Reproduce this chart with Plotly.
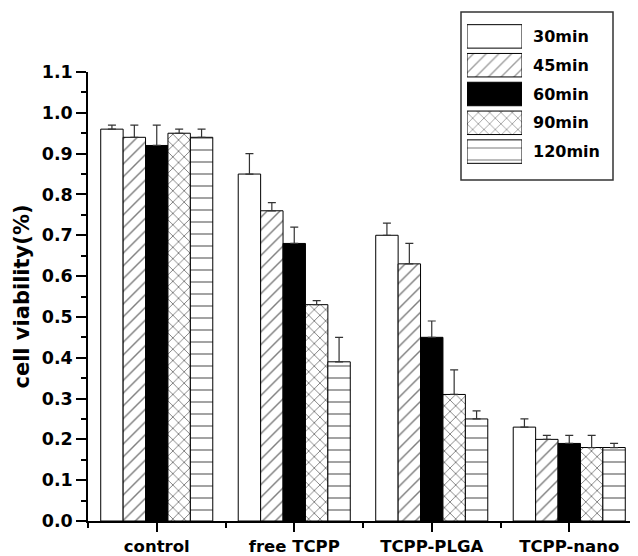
import plotly.graph_objects as go

categories = ["control", "free TCPP", "TCPP-PLGA", "TCPP-nano"]
series_names = ["30min", "45min", "60min", "90min", "120min"]
values_30 = [0.96, 0.85, 0.70, 0.23]
values_45 = [0.94, 0.76, 0.63, 0.20]
values_60 = [0.92, 0.68, 0.45, 0.19]
values_90 = [0.95, 0.53, 0.31, 0.18]
values_120 = [0.94, 0.39, 0.25, 0.18]
err_30 = [0.01, 0.05, 0.03, 0.02]
err_45 = [0.03, 0.02, 0.05, 0.01]
err_60 = [0.05, 0.04, 0.04, 0.02]
err_90 = [0.01, 0.01, 0.06, 0.03]
err_120 = [0.02, 0.06, 0.02, 0.01]
y_ticks = [0.0, 0.1, 0.2, 0.3, 0.4, 0.5, 0.6, 0.7, 0.8, 0.9, 1.0, 1.1]

all_vals = [values_30, values_45, values_60, values_90, values_120]
all_errs = [err_30, err_45, err_60, err_90, err_120]
fills = ["white", "white", "black", "white", "white"]
shapes_p = ["", "/", "", "x", "-"]
sizes_p = [8, 9, 8, 8, 12]
solid_p = [0.2, 0.16, 0.2, 0.22, 0.12]

FONT = "DejaVu Sans, Arial, sans-serif"
fig = go.Figure()
xs = list(range(len(categories)))
for name, v, e, fc, sh, sz, so in zip(series_names, all_vals, all_errs, fills, shapes_p, sizes_p, solid_p):
    fig.add_trace(go.Bar(
        x=xs, y=v, name=name, showlegend=False,
        marker=dict(color=fc, line=dict(color="black", width=1),
                    pattern=dict(shape=sh, fgcolor="black", bgcolor=fc, size=sz, solidity=so)),
        error_y=dict(type="data", array=e, arrayminus=[0] * len(e), symmetric=False,
                     color="#333333", thickness=1.2, width=4),
        xaxis="x", yaxis="y",
    ))

# legend drawn as a small horizontal bar chart
fig.add_trace(go.Bar(
    y=series_names, x=[1] * len(series_names), orientation="h", showlegend=False,
    marker=dict(color=fills, line=dict(color="black", width=1),
                pattern=dict(shape=shapes_p, fgcolor="black", bgcolor=fills, size=sizes_p, solidity=solid_p)),
    xaxis="x2", yaxis="y2", hoverinfo="skip",
))

OFF = 8  # page body margin
W, H = 638 - OFF, 556 - OFF
L, R, T, B = 88 - OFF, 0, 8, 556 - 521
pw, ph = W - L - R, H - T - B
def fx(px):
    return (px - OFF - L) / pw
def fy(py):
    return (H - B - (py - OFF)) / ph

fig.update_layout(
    width=W, height=H,
    margin=dict(l=L, r=R, t=T, b=B, autoexpand=False),
    plot_bgcolor="white", paper_bgcolor="white",
    barmode="group", bargap=0.185, bargroupgap=0,
    font=dict(family=FONT, color="black"),
    xaxis=dict(
        domain=[0, 1], range=[-0.5, 3.5], tickvals=xs, ticktext=categories,
        showline=True, linecolor="black", linewidth=1.5, showgrid=False, zeroline=False,
        ticks="outside", ticklen=9, tickwidth=1.5, tickcolor="black",
        tickfont=dict(size=16.5, family=FONT, weight="bold"),
        minor=dict(tick0=0.5, dtick=1, ticks="outside", ticklen=5, tickwidth=1.5, tickcolor="black"),
        anchor="y", automargin=False,
    ),
    yaxis=dict(
        domain=[0, fy(72)], range=[0, 1.1], tickvals=y_ticks, tickformat=".1f",
        showline=True, linecolor="black", linewidth=1.5, showgrid=False, zeroline=False,
        ticks="outside", ticklen=10, tickwidth=1.5, tickcolor="black",
        tickfont=dict(size=17.5, family=FONT, weight="bold"),
        minor=dict(dtick=0.05, ticks="outside", ticklen=5, tickwidth=1.5, tickcolor="black"),
        title=dict(text="cell viability(%)", font=dict(size=21, family=FONT, weight="bold"), standoff=6),
        anchor="x", automargin=False,
    ),
    xaxis2=dict(domain=[fx(467), fx(522)], range=[0, 1], visible=False, anchor="y2", fixedrange=True),
    yaxis2=dict(domain=[fy(166), fy(22)], type="category", autorange="reversed",
                showline=False, showgrid=False, zeroline=False, ticks="",
                side="right", anchor="x2", ticklabelstandoff=10,
                tickfont=dict(size=16, family=FONT, weight="bold"), fixedrange=True),
    shapes=[dict(type="rect", xref="paper", yref="paper",
                 x0=fx(461), x1=fx(613), y0=fy(180), y1=fy(12),
                 line=dict(color="#333333", width=1.5), fillcolor="rgba(0,0,0,0)", layer="above")],
)

fig.write_html("out.html")
